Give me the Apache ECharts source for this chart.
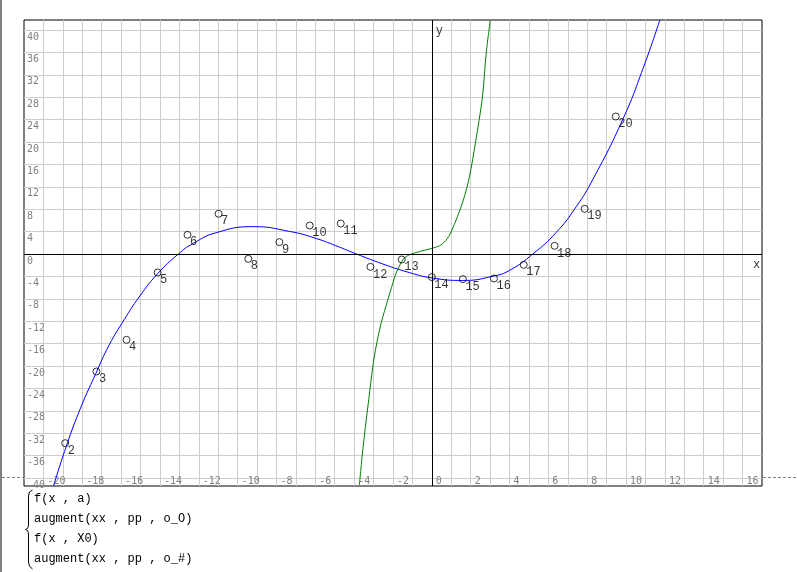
<!DOCTYPE html>
<html><head><meta charset="utf-8">
<script src="https://cdn.jsdelivr.net/npm/echarts@6/dist/echarts.min.js"></script>
<style>html,body{margin:0;padding:0;background:#fff}#c{width:797px;height:572px}</style>
</head><body><div id="c"></div>
<script>
// ---- data ----
const pointIds = [2,3,4,5,6,7,8,9,10,11,12,13,14,15,16,17,18,19,20];
const pointX = [-18.88,-17.27,-15.72,-14.12,-12.58,-10.98,-9.45,-7.85,-6.29,-4.69,-3.16,-1.55,0,1.6,3.2,4.73,6.32,7.87,9.47];
const pointY = [-33.75,-20.96,-15.3,-3.28,3.45,7.2,-0.84,2.14,5.1,5.46,-2.27,-0.96,-4.1,-4.47,-4.35,-1.91,1.48,8.09,24.57];

// fitted curve f(x, a) (blue)
const blueX = [-19.48,-18.85,-18.16,-17.3,-16.61,-15.84,-15.07,-14.12,-13.04,-12.32,-11.11,-9.2,-7.34,-5.96,-4.76,-3.9,-2.53,-1.15,0,1.6,3.14,4.0,5.21,6.41,7.44,8.3,9.85,10.88,11.74];
const blueY = [-41.4,-34.6,-28.1,-21.3,-16.2,-11.7,-7.65,-3.5,0.05,1.85,3.82,4.9,4.06,2.8,1.25,0.05,-1.75,-3.3,-4.25,-4.7,-3.95,-2.9,0.05,3.9,8.5,13.4,24.2,33.2,41.8];

// curve f(x, X0) (green)
const greenX = [-3.73,-3.59,-3.42,-3.25,-3.04,-2.87,-2.61,-2.27,-2.01,-1.84,-1.58,-1.41,-1.15,-0.63,-0.03,0.4,0.71,1.0,1.6,1.94,2.24,2.6,2.8,3.01];
const greenY = [-41.2,-36.1,-30.8,-26,-20.1,-16.5,-12.3,-8.2,-5.2,-3.4,-1.5,-0.7,-0.1,0.46,1.0,1.5,2.4,4.0,9.4,13.9,19.8,27.9,35.9,41.8];

const xTickLabels = [-20,-18,-16,-14,-12,-10,-8,-6,-4,-2,0,2,4,6,8,10,12,14,16];
const yTickLabels = [-40,-36,-32,-28,-24,-20,-16,-12,-8,-4,0,4,8,12,16,20,24,28,32,36,40];
const axisNames = [{name:'x', at:[17,0]}, {name:'y', at:[0,41.8]}];
const legendLines = ['f(x , a)', 'augment(xx , pp , o_O)', 'f(x , X0)', 'augment(xx , pp , o_#)'];

// ---- chart ----
const chart = echarts.init(document.getElementById('c'), null, {renderer:'canvas'});
const gridColor = '#cdcdcd';
const tickFont = {color:'#808080', fontFamily:'DejaVu Sans Mono', fontSize:10};
const monoFont = {color:'#000', fontFamily:'Liberation Mono', fontSize:12};
const braceStyle = {stroke:'#000', lineWidth:1, fill:null};

const option = {
  animation: false,
  backgroundColor: '#fff',
  grid: [
    {left:24, right:35, top:20, bottom:86, show:true, borderColor:'#000', borderWidth:1, backgroundColor:'#fff'},
    {left:24, right:35, top:30, height:448, show:false}
  ],
  xAxis: [
    {gridIndex:0, type:'value', min:-21, max:17, interval:1,
     axisLine:{show:false}, axisTick:{show:false},
     splitLine:{show:true, showMinLine:false, showMaxLine:false, lineStyle:{color:gridColor, width:1}},
     axisLabel:Object.assign({inside:true, margin:0, align:'left', verticalAlign:'bottom', padding:[0,0,0,4],
       showMinLabel:false, showMaxLabel:false,
       formatter:v => xTickLabels.includes(v) ? String(v) : ''}, tickFont)},
    {gridIndex:1, type:'value', min:-21, max:17, show:false}
  ],
  yAxis: [
    {gridIndex:0, type:'value', min:-41.4, max:41.8, show:false},
    {gridIndex:1, type:'value', min:-40, max:40, interval:4,
     axisLine:{show:false}, axisTick:{show:false},
     splitLine:{show:true, lineStyle:{color:gridColor, width:1}},
     axisLabel:Object.assign({inside:true, margin:3, align:'left', verticalAlign:'top', padding:[2,0,0,0],
       formatter:v => yTickLabels.includes(v) ? String(v) : ''}, tickFont)}
  ],
  graphic: [
    {type:'rect', shape:{x:0, y:0, width:2, height:572}, style:{fill:'#808080'}, silent:true},
    {type:'line', shape:{x1:2, y1:477.5, x2:24, y2:477.5}, style:{stroke:'#808080', lineDash:[3,2], lineWidth:1}, silent:true},
    {type:'line', shape:{x1:763, y1:477.5, x2:797, y2:477.5}, style:{stroke:'#808080', lineDash:[3,2], lineWidth:1}, silent:true},
    {type:'bezierCurve', shape:{x1:32.5, y1:490, cpx1:28.5, cpy1:491, x2:28.5, y2:496}, style:braceStyle, silent:true},
    {type:'line', shape:{x1:28.5, y1:496, x2:28.5, y2:524}, style:braceStyle, silent:true},
    {type:'bezierCurve', shape:{x1:28.5, y1:524, cpx1:28.5, cpy1:529, x2:25.5, y2:529.5}, style:braceStyle, silent:true},
    {type:'bezierCurve', shape:{x1:25.5, y1:529.5, cpx1:28.5, cpy1:530, x2:28.5, y2:535}, style:braceStyle, silent:true},
    {type:'line', shape:{x1:28.5, y1:535, x2:28.5, y2:562}, style:braceStyle, silent:true},
    {type:'bezierCurve', shape:{x1:28.5, y1:562, cpx1:28.5, cpy1:567, x2:32.5, y2:569}, style:braceStyle, silent:true}
  ].concat(legendLines.map((t, i) => ({
    type:'text', left:34, top:493 + i*20, silent:true,
    style:{text:t, font:'12px "Liberation Mono"', fill:'#000'}
  }))),
  series: [
    {type:'line', name:'f(x, a)', xAxisIndex:0, yAxisIndex:0, showSymbol:false, smooth:0.5,
     lineStyle:{color:'#0000ff', width:1}, z:3,
     data: blueX.map((x, i) => [x, blueY[i]]),
     markLine:{silent:true, symbol:['none','none'], label:{show:false},
       lineStyle:{color:'#000', width:1, type:'solid'},
       data:[{yAxis:0}, {xAxis:0}]}},
    {type:'line', name:'f(x, X0)', xAxisIndex:0, yAxisIndex:0, showSymbol:false, smooth:0.3,
     lineStyle:{color:'#008000', width:1}, z:3,
     data: greenX.map((x, i) => [x, greenY[i]])},
    {type:'scatter', name:'augment(xx, pp, o_O)', xAxisIndex:0, yAxisIndex:0,
     symbol:'circle', symbolSize:7, z:4,
     itemStyle:{color:'rgba(0,0,0,0)', borderColor:'#000', borderWidth:1},
     label:Object.assign({show:true, position:[6.5,11.5], align:'left', verticalAlign:'middle',
       formatter:p => String(p.value[2])}, monoFont),
     data: pointX.map((x, i) => [x, pointY[i], pointIds[i]])},
    {type:'scatter', name:'axis names', xAxisIndex:0, yAxisIndex:0, symbolSize:0, z:4, silent:true,
     label:Object.assign({show:true, align:'left', verticalAlign:'top',
       formatter:p => p.data.name}, monoFont),
     data: axisNames.map(a => ({name:a.name, value:a.at,
       label:{position: a.name === 'x' ? [-9,5] : [4,5]}}))}
  ]
};
chart.setOption(option);
</script>
</body></html>
